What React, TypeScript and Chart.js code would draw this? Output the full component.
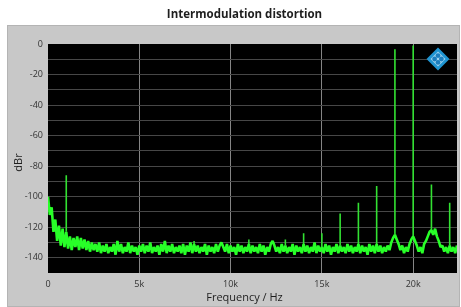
import React, { useEffect, useRef } from "react";
import { Chart, registerables } from "chart.js";

Chart.register(...registerables);

// ---- data -------------------------------------------------------------
const chartTitle = "Intermodulation distortion";
const xTitle = "Frequency / Hz";
const yTitle = "dBr";

// noise floor, sampled every 100 Hz from 0 Hz (levels in dBr)
const floorStartHz = 0;
const floorStepHz = 100;
const floorLevels = [
  -100, -112, -107, -123, -115, -129, -119, -132, -121, -133,
  -123, -134, -126, -135, -127, -133, -126, -135, -127, -134,
  -128, -135, -129, -136, -130, -135, -131, -136, -130, -137,
  -132, -136, -131, -137, -133, -136, -131, -138, -129, -136,
  -131, -137, -133, -136, -130, -137, -132, -136, -133, -138,
  -132, -136, -131, -137, -132, -136, -130, -137, -133, -136,
  -132, -138, -131, -136, -129, -137, -132, -136, -131, -137,
  -133, -136, -132, -137, -131, -138, -132, -136, -130, -137,
  -131, -136, -132, -137, -133, -136, -131, -138, -132, -136,
  -133, -137, -131, -136, -132, -130, -133, -136, -131, -137,
  -132, -136, -133, -138, -131, -136, -132, -137, -133, -136,
  -131, -137, -132, -136, -133, -137, -131, -136, -132, -138,
  -133, -136, -131, -129, -132, -136, -133, -137, -131, -136,
  -132, -137, -133, -136, -131, -138, -132, -136, -133, -137,
  -131, -136, -132, -137, -133, -136, -130, -137, -132, -136,
  -133, -137, -131, -136, -132, -138, -133, -136, -131, -137,
  -132, -136, -133, -137, -131, -136, -132, -137, -133, -136,
  -131, -137, -132, -136, -133, -138, -131, -136, -132, -137,
  -131, -136, -132, -137, -133, -136, -132, -135, -130, -127,
  -125, -128, -131, -135, -132, -137, -133, -136, -131, -128,
  -126, -129, -132, -136, -133, -137, -131, -129, -126, -123,
  -122, -125, -121, -126, -129, -133, -132, -136, -133, -137,
  -132, -136, -133, -137, -132,
];

// discrete spectral lines (Hz, dBr)
const peakFreqs = [1000, 8000, 11000, 13000, 14000, 15000, 16000, 17000, 18000, 19000, 20000, 21000, 22000];
const peakLevels = [-86, -129, -128, -128, -124, -124, -111, -104, -93, -3.5, -1, -92, -104];

// axes
const xMin = 0;
const xMax = 22400;
const xTickValues = [0, 5000, 10000, 15000, 20000];
const xTickLabels = ["0", "5k", "10k", "15k", "20k"];
const yMin = -150;
const yMax = 0;
const yGridValues = [-150, -140, -130, -120, -110, -100, -90, -80, -70, -60, -50, -40, -30, -20, -10, 0];
const yTickLabels = ["0", "-20", "-40", "-60", "-80", "-100", "-120", "-140"];

const FONT = "'Open Sans', 'DejaVu Sans', sans-serif";

function floorAt(f: number): number {
  const i = Math.round((f - floorStartHz) / floorStepHz);
  return floorLevels[Math.max(0, Math.min(floorLevels.length - 1, i))];
}

const decorPlugin = {
  id: "decor",
  beforeDraw(chart: any) {
    const { ctx, chartArea: a, width, height } = chart;
    ctx.save();
    ctx.fillStyle = "#ffffff";
    ctx.fillRect(0, 0, width, height);
    // grey instrument panel
    ctx.fillStyle = "#c8c8c8";
    ctx.fillRect(7, 25, width - 8, height - 25);
    ctx.strokeStyle = "#b4b4b4";
    ctx.lineWidth = 1;
    ctx.strokeRect(7.5, 25.5, width - 9, height - 26);
    // plot background
    ctx.fillStyle = "#000000";
    ctx.fillRect(a.left, a.top, a.right - a.left, a.bottom - a.top);
    ctx.restore();
  },
  afterDatasetsDraw(chart: any) {
    const { ctx, chartArea: a } = chart;
    const cx = a.right - 19;
    const cy = a.top + 15;
    const r = 11.5;
    ctx.save();
    ctx.beginPath();
    ctx.moveTo(cx, cy - r);
    ctx.lineTo(cx + r, cy);
    ctx.lineTo(cx, cy + r);
    ctx.lineTo(cx - r, cy);
    ctx.closePath();
    ctx.fillStyle = "#1f95d2";
    ctx.fill();
    const r2 = 7.5;
    ctx.beginPath();
    ctx.moveTo(cx, cy - r2);
    ctx.lineTo(cx + r2, cy);
    ctx.lineTo(cx, cy + r2);
    ctx.lineTo(cx - r2, cy);
    ctx.closePath();
    ctx.fillStyle = "#9fd3ee";
    ctx.fill();
    ctx.fillStyle = "#1c7fbf";
    const d = 3.4;
    for (const [dx, dy] of [[d, 0], [-d, 0], [0, d], [0, -d]]) {
      ctx.beginPath();
      ctx.arc(cx + dx, cy + dy, 2.4, 0, Math.PI * 2);
      ctx.fill();
    }
    ctx.restore();
  },
  afterDraw(chart: any) {
    const { ctx, chartArea: a } = chart;
    const mid = (a.left + a.right) / 2 - 8;
    ctx.save();
    ctx.fillStyle = "#1e1e1e";
    ctx.textAlign = "center";
    ctx.textBaseline = "middle";
    ctx.font = `bold 11.5px ${FONT}`;
    ctx.fillText(chartTitle, mid, 15);
    ctx.font = `11px ${FONT}`;
    ctx.fillText(xTitle, mid, a.bottom + 25);
    ctx.translate(19, (a.top + a.bottom) / 2 + 4);
    ctx.rotate(-Math.PI / 2);
    ctx.fillText(yTitle, 0, 0);
    ctx.restore();
  },
};

export default function App() {
  const ref = useRef<HTMLCanvasElement | null>(null);

  useEffect(() => {
    if (!ref.current) return;

    const floorData = floorLevels.map((v, i) => ({ x: floorStartHz + i * floorStepHz, y: v }));
    const peakData: { x: number; y: number | null }[] = [];
    peakFreqs.forEach((f, i) => {
      peakData.push({ x: f, y: floorAt(f) });
      peakData.push({ x: f, y: peakLevels[i] });
      peakData.push({ x: f, y: null });
    });

    const chart = new Chart(ref.current, {
      type: "line",
      data: {
        datasets: [
          {
            data: peakData as any,
            borderColor: "rgb(50,225,50)",
            borderWidth: 1.6,
            pointRadius: 0,
            tension: 0,
            spanGaps: false,
          },
          {
            data: floorData as any,
            borderColor: "rgb(40,255,40)",
            borderWidth: 2.6,
            borderJoinStyle: "bevel",
            pointRadius: 0,
            tension: 0,
            spanGaps: false,
          },
        ],
      },
      plugins: [decorPlugin],
      options: {
        animation: false,
        responsive: false,
        devicePixelRatio: 1,
        events: [],
        layout: { padding: { left: 8, top: 44, right: 4, bottom: 0 } },
        plugins: {
          legend: { display: false },
          tooltip: { enabled: false },
          title: { display: false },
        },
        scales: {
          x: {
            type: "linear",
            min: xMin,
            max: xMax,
            afterBuildTicks: (s: any) => {
              s.ticks = xTickValues.map((v) => ({ value: v }));
            },
            afterFit: (s: any) => {
              s.height = 34;
            },
            ticks: {
              padding: 6,
              maxRotation: 0,
              autoSkip: false,
              font: { family: FONT, size: 9 },
              color: "#333333",
              callback: (v: any) => {
                const i = xTickValues.indexOf(Number(v));
                return i >= 0 ? xTickLabels[i] : "";
              },
            },
            grid: {
              drawTicks: false,
              color: (c: any) => (c.tick && c.tick.value === 0 ? "rgba(0,0,0,0)" : "#858585"),
              lineWidth: 1,
            },
            border: { display: false },
          },
          y: {
            type: "linear",
            min: yMin,
            max: yMax,
            afterBuildTicks: (s: any) => {
              s.ticks = yGridValues.map((v) => ({ value: v }));
            },
            afterFit: (s: any) => {
              s.width = 40;
            },
            ticks: {
              padding: 5,
              autoSkip: false,
              font: { family: FONT, size: 9 },
              color: "#333333",
              callback: (v: any) => {
                const s = String(v);
                return yTickLabels.indexOf(s) >= 0 ? s : "";
              },
            },
            grid: {
              drawTicks: false,
              color: (c: any) =>
                c.tick && (c.tick.value === 0 || c.tick.value === -150) ? "rgba(0,0,0,0)" : "#474747",
              lineWidth: 1,
            },
            border: { display: false },
          },
        },
      },
    });
    return () => chart.destroy();
  }, []);

  return (
    <div style={{ position: "absolute", left: 0, top: 0, width: 461, height: 307 }}>
      <canvas ref={ref} width={461} height={307} style={{ display: "block" }} />
    </div>
  );
}
